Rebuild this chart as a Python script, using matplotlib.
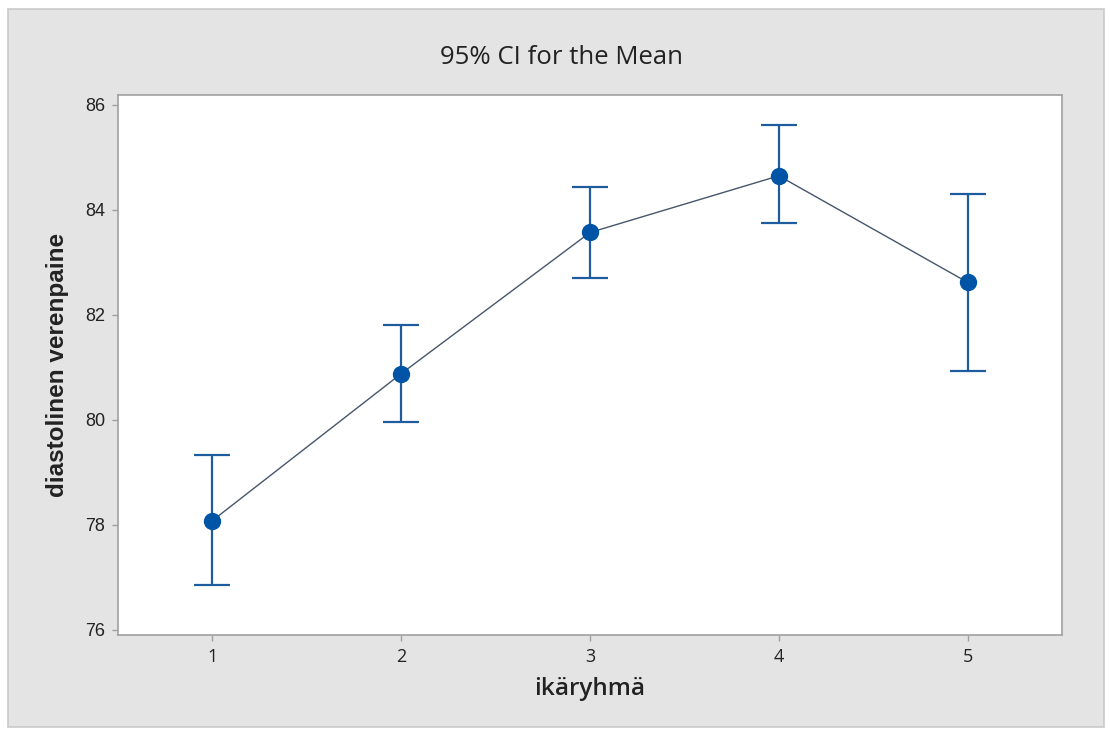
import matplotlib
matplotlib.use("Agg")
import matplotlib.pyplot as plt
from matplotlib.patches import Rectangle

groups = [1, 2, 3, 4, 5]
means = [78.08, 80.88, 83.57, 84.65, 82.62]
upper = [79.33, 81.80, 84.44, 85.61, 84.31]
lower = [76.86, 79.95, 82.70, 83.76, 80.93]
yticks = [76, 78, 80, 82, 84, 86]

W, H = 1106, 734
fig = plt.figure(figsize=(W / 100, H / 100), dpi=100)
fig.patch.set_facecolor("white")
fig.patches.append(Rectangle((8 / W, 1 - 727 / H), (1104 - 8) / W, (727 - 9) / H,
                             transform=fig.transFigure, facecolor="#e4e4e4",
                             edgecolor="#c9c9c9", linewidth=1.2, zorder=-10))

ax = fig.add_axes([118 / W, 1 - 635 / H, (1062 - 118) / W, (635 - 95) / H])
ax.set_facecolor("white")

yerr = [[m - l for m, l in zip(means, lower)], [u - m for u, m in zip(upper, means)]]
ax.plot(groups, means, color="#45566c", linewidth=1.0, zorder=2)
ax.errorbar(groups, means, yerr=yerr, fmt="none", ecolor="#1f5c9e",
            elinewidth=1.6, capsize=13, capthick=1.6, zorder=3)
ax.plot(groups, means, "o", color="#0054a6", markersize=12.5, zorder=4,
        markeredgewidth=0)

ax.set_xlim(0.5, 5.5)
ax.set_ylim(75.9, 86.19)
ax.set_xticks(groups)
ax.set_yticks(yticks)
ax.set_xticklabels([str(g) for g in groups], fontfamily="Open Sans", fontsize=13, color="#222222")
ax.set_yticklabels([str(t) for t in yticks], fontfamily="Liberation Sans", fontsize=13, color="#222222")
for s in ax.spines.values():
    s.set_color("#a0a0a0")
    s.set_linewidth(1.2)
ax.tick_params(axis="both", length=4, width=1, color="#a0a0a0", pad=5)

ax.set_xlabel("ikäryhmä", fontfamily="Open Sans", fontweight="semibold",
              fontsize=17.5, color="#222222", labelpad=8)
ax.set_ylabel("diastolinen verenpaine", fontfamily="Liberation Sans", fontweight="bold",
              fontsize=17.5, color="#222222", labelpad=12)
fig.text(561 / W, 1 - 57 / H, "95% CI for the Mean", fontfamily="Open Sans",
         fontsize=18.5, color="#222222", ha="center", va="center")

fig.savefig("out.png", dpi=100, facecolor=fig.get_facecolor())
